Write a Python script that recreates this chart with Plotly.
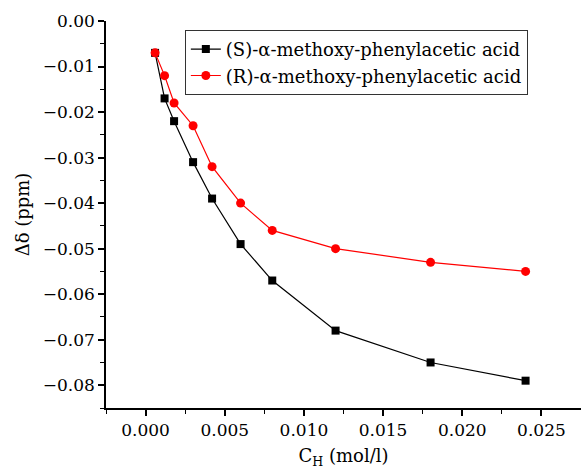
import plotly.graph_objects as go

conc = [0.0006, 0.0012, 0.0018, 0.003, 0.0042, 0.006, 0.008, 0.012, 0.018, 0.024]
s_shift = [-0.007, -0.017, -0.022, -0.031, -0.039, -0.049, -0.057, -0.068, -0.075, -0.079]
r_shift = [-0.007, -0.012, -0.018, -0.023, -0.032, -0.040, -0.046, -0.050, -0.053, -0.055]

FONT = "DejaVu Serif"

fig = go.Figure()
fig.add_trace(go.Scatter(x=conc, y=s_shift, mode="lines+markers",
                         name="(S)-α-methoxy-phenylacetic acid",
                         line=dict(color="black", width=1.2),
                         marker=dict(symbol="square", size=8, color="black")))
fig.add_trace(go.Scatter(x=conc, y=r_shift, mode="lines+markers",
                         name="(R)-α-methoxy-phenylacetic acid",
                         line=dict(color="#ff0000", width=1.2),
                         marker=dict(symbol="circle", size=9, color="#ff0000")))

fig.update_layout(
    width=581, height=472,
    margin=dict(l=106, r=0, t=21, b=64),
    plot_bgcolor="white", paper_bgcolor="white",
    font=dict(family=FONT, size=17, color="black"),
    showlegend=True,
    legend=dict(x=0.166, y=0.977, xanchor="left", yanchor="top",
                bordercolor="#333333", borderwidth=1, bgcolor="white",
                font=dict(family=FONT, size=18),
                tracegroupgap=0, itemwidth=30),
)
fig.update_xaxes(range=[-0.0025, 0.0275], tickvals=[0, 0.005, 0.01, 0.015, 0.02, 0.025],
                 tickformat=".3f", showgrid=False, zeroline=False,
                 showline=True, linecolor="black", linewidth=1.5,
                 ticks="outside", ticklen=6, tickwidth=1.5, tickcolor="black",
                 minor=dict(tickvals=[-0.0025, 0.0025, 0.0075, 0.0125, 0.0175, 0.0225, 0.0275],
                            ticks="outside", ticklen=4, tickwidth=1, tickcolor="black"),
                 title=dict(text="C<sub>H</sub> (mol/l)", standoff=10,
                            font=dict(family=FONT, size=18, color="black")))
fig.update_yaxes(range=[-0.085, 0.0], tickvals=[0, -0.01, -0.02, -0.03, -0.04, -0.05, -0.06, -0.07, -0.08],
                 tickformat=".2f", showgrid=False, zeroline=False,
                 showline=True, linecolor="black", linewidth=1.5,
                 ticks="outside", ticklen=6, tickwidth=1.5, tickcolor="black",
                 minor=dict(tickvals=[-0.005, -0.015, -0.025, -0.035, -0.045, -0.055, -0.065, -0.075, -0.085],
                            ticks="outside", ticklen=4, tickwidth=1, tickcolor="black"),
                 title=dict(text="Δδ (ppm)", standoff=8,
                            font=dict(family=FONT, size=18, color="black")))

fig.write_html("out.html")
